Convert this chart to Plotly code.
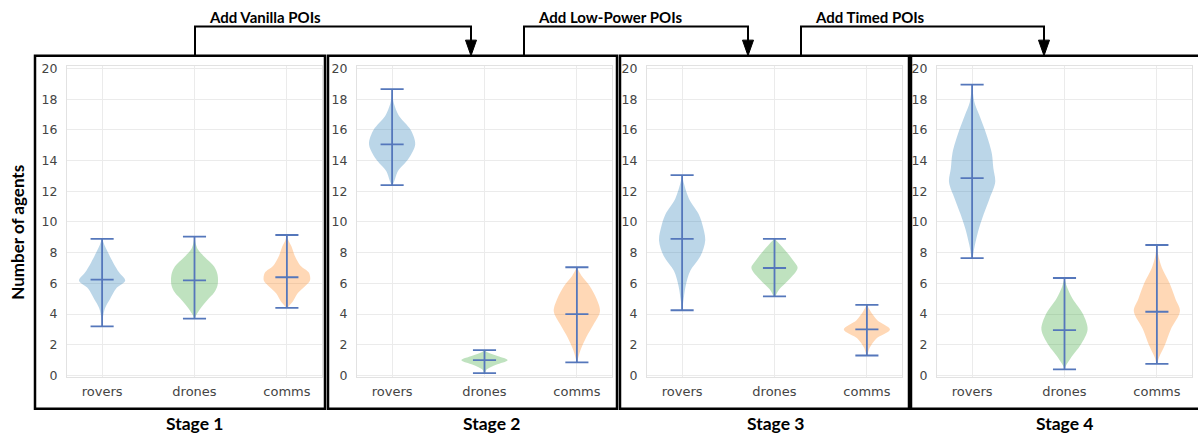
import plotly.graph_objects as go

W, H = 1198, 440

# ---------------- data ----------------
categories = ["rovers", "drones", "comms"]
stages = ["Stage 1", "Stage 2", "Stage 3", "Stage 4"]
transitions = ["Add Vanilla POIs", "Add Low-Power POIs", "Add Timed POIs"]
y_ticks = [0, 2, 4, 6, 8, 10, 12, 14, 16, 18, 20]

mins = [[3.2, 3.7, 4.4], [12.4, 0.15, 0.85], [4.25, 5.15, 1.3], [7.65, 0.4, 0.75]]
maxs = [[8.9, 9.05, 9.15], [18.65, 1.65, 7.05], [13.05, 8.9, 4.6], [18.95, 6.35, 8.5]]
medians = [[6.25, 6.2, 6.4], [15.05, 1.0, 4.0], [8.9, 7.0, 3.0], [12.85, 2.95, 4.15]]

# density outline of each violin (value levels and relative width)
stage1_prof_y = [
    [3.2, 3.75, 4.4, 5.0, 5.65, 6.18, 6.7, 7.35, 8.0, 8.5, 8.9],
    [3.7, 3.95, 4.35, 4.9, 5.4, 5.9, 6.55, 7.1, 7.7, 8.2, 8.6, 9.05],
    [4.4, 4.55, 4.8, 5.33, 5.76, 6.18, 6.7, 7.13, 7.77, 8.4, 8.8, 9.15],
]
stage1_prof_w = [
    [0, 0.03, 0.13, 0.35, 0.6, 1.0, 0.74, 0.48, 0.26, 0.1, 0],
    [0, 0.08, 0.25, 0.55, 0.85, 1.0, 1.0, 0.85, 0.45, 0.15, 0.05, 0],
    [0, 0.1, 0.25, 0.45, 0.75, 1.0, 0.95, 0.6, 0.35, 0.2, 0.07, 0],
]
stage2_prof_y = [
    [12.4, 12.6, 13.3, 14.1, 15.07, 16.0, 16.9, 17.7, 18.2, 18.65],
    [0.15, 0.4, 0.7, 1.0, 1.3, 1.5, 1.65],
    [0.85, 1.0, 1.63, 2.48, 3.32, 4.17, 5.0, 5.86, 6.5, 7.05],
]
stage2_prof_w = [
    [0, 0.08, 0.25, 0.7, 1.0, 0.8, 0.3, 0.08, 0.02, 0],
    [0, 0.1, 0.5, 1.0, 0.5, 0.15, 0],
    [0, 0.03, 0.15, 0.4, 0.72, 1.0, 0.85, 0.54, 0.2, 0],
]
stage3_prof_y = [
    [4.25, 4.8, 5.8, 6.8, 7.8, 8.8, 9.7, 10.5, 11.5, 12.5, 13.05],
    [5.15, 5.6, 6.2, 7.0, 7.5, 8.0, 8.6, 8.9],
    [1.3, 1.8, 2.4, 3.0, 3.6, 4.2, 4.6],
]
stage3_prof_w = [
    [0, 0.05, 0.15, 0.35, 0.8, 1.0, 0.9, 0.72, 0.3, 0.08, 0],
    [0, 0.2, 0.6, 1.0, 0.8, 0.55, 0.2, 0],
    [0, 0.12, 0.4, 1.0, 0.45, 0.15, 0],
]
stage4_prof_y = [
    [7.65, 8.5, 9.5, 10.5, 11.5, 12.6, 13.5, 14.5, 16.0, 17.0, 17.8, 18.95],
    [0.4, 0.6, 1.2, 2.0, 3.0, 4.0, 5.0, 5.8, 6.35],
    [0.75, 1.2, 2.0, 3.0, 4.2, 5.0, 6.0, 7.0, 7.7, 8.5],
]
stage4_prof_w = [
    [0, 0.12, 0.28, 0.5, 0.75, 1.0, 0.92, 0.85, 0.55, 0.3, 0.1, 0],
    [0, 0.05, 0.3, 0.7, 1.0, 0.8, 0.35, 0.1, 0],
    [0, 0.1, 0.35, 0.6, 1.0, 0.8, 0.55, 0.22, 0.08, 0],
]
prof_y = [stage1_prof_y, stage2_prof_y, stage3_prof_y, stage4_prof_y]
prof_w = [stage1_prof_w, stage2_prof_w, stage3_prof_w, stage4_prof_w]

# ---------------- style ----------------
fills = ["rgba(31,119,180,0.3)", "rgba(44,160,44,0.3)", "rgba(255,127,14,0.3)"]
LINE = "#5577bb"
GRID = "#ebebeb"
TICK_FONT = dict(family="DejaVu Sans", size=13, color="#444444")
BOLD = "Lato"

panel_left = [67, 357, 647, 937]
panel_w = 255
plot_top, plot_bot = 62, 381
half_width = 0.25
cap = 0.125


def px(x):
    return x / W


def py(y):
    return 1 - y / H


fig = go.Figure()

for s in range(4):
    suf = "" if s == 0 else str(s + 1)
    xa, ya = "x" + suf, "y" + suf
    for c in range(3):
        ys = prof_y[s][c]
        ws = prof_w[s][c]
        xr = [c + half_width * w for w in ws]
        xl = [c - half_width * w for w in ws[::-1]]
        fig.add_trace(go.Scatter(
            x=xr + xl, y=ys + ys[::-1], mode="lines", fill="toself",
            fillcolor=fills[c], line=dict(width=0, shape="spline", smoothing=0.9),
            xaxis=xa, yaxis=ya, hoverinfo="skip", showlegend=False))
        lo, hi, md = mins[s][c], maxs[s][c], medians[s][c]
        fig.add_trace(go.Scatter(
            x=[c, c, None, c - cap, c + cap, None, c - cap, c + cap, None, c - cap, c + cap],
            y=[lo, hi, None, lo, lo, None, hi, hi, None, md, md],
            mode="lines", line=dict(color=LINE, width=1.8),
            xaxis=xa, yaxis=ya, hoverinfo="skip", showlegend=False))

    left = panel_left[s]
    fig.layout["xaxis" + suf] = dict(
        domain=[px(left), px(left + panel_w)], range=[-0.38, 2.38],
        tickvals=[0, 1, 2], ticktext=categories, tickfont=TICK_FONT,
        showgrid=True, gridcolor=GRID, gridwidth=1, zeroline=False,
        showline=True, mirror=True, linecolor="#e2e2e2", linewidth=1,
        anchor=ya, fixedrange=True, ticks="", ticklabelstandoff=2)
    fig.layout["yaxis" + suf] = dict(
        domain=[py(plot_bot), py(plot_top)], range=[-0.13, 20.13],
        tickvals=y_ticks, tickfont=dict(family="DejaVu Sans", size=12.5, color="#444444"),
        showgrid=True, gridcolor=GRID, gridwidth=1, zeroline=False,
        showline=True, mirror=True, linecolor="#e2e2e2", linewidth=1,
        anchor=xa, fixedrange=True, ticks="", ticklabelstandoff=6)

shapes = []
# panel frames
box_x = [(35, 325), (328, 617), (620, 909), (911, 1200)]
for (x0, x1) in box_x:
    shapes.append(dict(type="rect", xref="paper", yref="paper",
                       x0=px(x0), x1=px(x1), y0=py(413), y1=py(51),
                       line=dict(color="black", width=2.5)))

# transition arrows
arrow_from = [195, 524, 801]
arrow_to = [471, 748, 1044]
top_y = 21
for a, b in zip(arrow_from, arrow_to):
    shapes.append(dict(type="path", xref="paper", yref="paper",
                       path=f"M {px(a)},{py(51)} L {px(a)},{py(top_y)} L {px(b)},{py(top_y)} L {px(b)},{py(36)}",
                       line=dict(color="black", width=2)))
    shapes.append(dict(type="path", xref="paper", yref="paper",
                       path=f"M {px(b-5.5)},{py(35)} L {px(b+5.5)},{py(35)} L {px(b)},{py(51)} Z",
                       fillcolor="black", line=dict(color="black", width=1)))

annotations = []
stage_x = [195, 491, 775, 1064]
for label, x in zip(stages, stage_x):
    annotations.append(dict(text=f"<b>{label}</b>", x=px(x), y=py(428), xref="paper", yref="paper",
                            showarrow=False, xanchor="center", yanchor="middle",
                            font=dict(family=BOLD, size=17.5, color="black")))
for label, a in zip(transitions, arrow_from):
    annotations.append(dict(text=f"<b>{label}</b>", x=px(a + 12), y=py(11), xref="paper", yref="paper",
                            showarrow=False, xanchor="left", yanchor="middle",
                            font=dict(family=BOLD, size=15, color="black")))
annotations.append(dict(text="<b>Number of agents</b>", x=px(17.5), y=py(232), xref="paper", yref="paper",
                        showarrow=False, xanchor="center", yanchor="middle", textangle=-90,
                        font=dict(family=BOLD, size=17, color="black")))

fig.update_layout(
    width=W, height=H, margin=dict(l=0, r=0, t=0, b=0, pad=0),
    paper_bgcolor="white", plot_bgcolor="white",
    shapes=shapes, annotations=annotations, showlegend=False)

page_fix = (
    "var r=document.documentElement.style;r.margin='0';r.padding='0';r.height='440px';r.overflow='hidden';"
    "var b=document.body.style;b.margin='0';b.padding='0';b.height='440px';b.overflow='hidden';"
)

fig.write_html("out.html", config={"displayModeBar": False}, post_script=page_fix)
